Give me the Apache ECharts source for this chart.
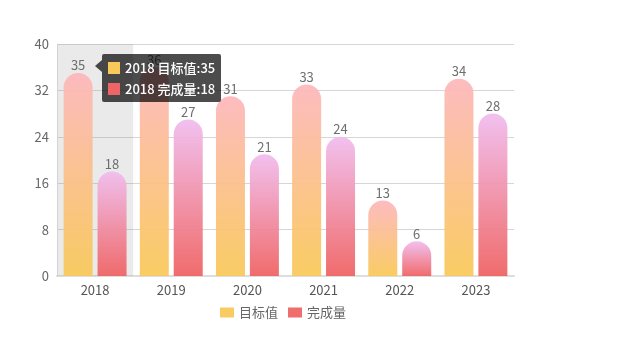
<!DOCTYPE html>
<html><head><meta charset="utf-8">
<script src="https://cdn.jsdelivr.net/npm/echarts@6/dist/echarts.min.js"></script>
<style>html,body{margin:0;padding:0;background:#fff}#c{width:623px;height:360px}</style>
</head><body><div id="c"></div>
<script>
const categories = ['2018','2019','2020','2021','2022','2023'];
const targetValues = [35,36,31,33,13,34];
const doneValues = [18,27,21,24,6,28];
const seriesNames = ['目标值','完成量'];
const yTicks = {min:0,max:40,interval:8};

const FONT = '"Noto Sans CJK SC", "Noto Sans", sans-serif';
const chart = echarts.init(document.getElementById('c'), null, {renderer:'canvas'});
function grad(top, bottom){
  return new echarts.graphic.LinearGradient(0,0,0,1,[{offset:0,color:top},{offset:1,color:bottom}]);
}
const solid = ['#F9C85B','#EF6565'];
chart.setOption({
  animation:false,
  textStyle:{fontFamily:FONT},
  grid:{left:57,right:109,top:44,bottom:84},
  tooltip:{
    trigger:'axis',
    alwaysShowContent:true,
    transitionDuration:0,
    axisPointer:{type:'shadow',z:1,shadowStyle:{color:'rgba(150,150,150,0.2)'}},
    backgroundColor:'rgba(0,0,0,0.7)',
    borderWidth:0,
    borderRadius:2,
    padding:[3,6],
    extraCssText:'box-shadow:none;',
    textStyle:{color:'#fff',fontSize:13,fontFamily:FONT},
    position:function(){return [102,54];},
    formatter:function(params){
      let s = '<div style="position:absolute;left:-7px;top:6px;width:0;height:0;border-top:6px solid transparent;border-bottom:6px solid transparent;border-right:7px solid rgba(0,0,0,0.7);"></div>';
      params.forEach(function(p){
        s += '<div style="line-height:21px;font-weight:500;"><span style="display:inline-block;width:12px;height:12px;margin-right:5px;vertical-align:-1px;background:'+solid[p.seriesIndex]+'"></span>'+p.name+' '+p.seriesName+':'+p.value+'</div>';
      });
      return s;
    }
  },
  legend:{
    left:215,bottom:36,
    itemWidth:14,itemHeight:10,itemGap:10,icon:'rect',
    textStyle:{color:'#666',fontSize:13,fontFamily:FONT},
    data:[{name:seriesNames[0],itemStyle:{color:solid[0]}},{name:seriesNames[1],itemStyle:{color:solid[1]}}]
  },
  xAxis:{
    type:'category',data:categories,
    axisTick:{show:false},
    axisLine:{lineStyle:{color:'#ddd',width:2}},
    axisLabel:{color:'#555',fontSize:13,margin:8}
  },
  yAxis:{
    type:'value',min:yTicks.min,max:yTicks.max,interval:yTicks.interval,
    axisLine:{show:true,lineStyle:{color:'#e3e3e3',width:1}},
    axisTick:{show:false},
    axisLabel:{color:'#666',fontSize:13,margin:8},
    splitLine:{lineStyle:{color:'#d6d6d6'}}
  },
  series:[
    {name:seriesNames[0],type:'bar',data:targetValues,barWidth:29,barGap:'17%',
     emphasis:{disabled:true},
     itemStyle:{borderRadius:[15,15,0,0],opacity:0.95,color:grad('#FDB8BC','#F9C95B')},
     label:{show:true,position:'top',color:'#666',fontSize:13,distance:1}},
    {name:seriesNames[1],type:'bar',data:doneValues,barWidth:29,
     emphasis:{disabled:true},
     itemStyle:{borderRadius:[15,15,0,0],opacity:0.95,color:grad('#F1BDEE','#EF6464')},
     label:{show:true,position:'top',color:'#666',fontSize:13,distance:1}}
  ]
});
setTimeout(function(){chart.dispatchAction({type:'showTip',seriesIndex:0,dataIndex:0});},50);
</script>
</body></html>
